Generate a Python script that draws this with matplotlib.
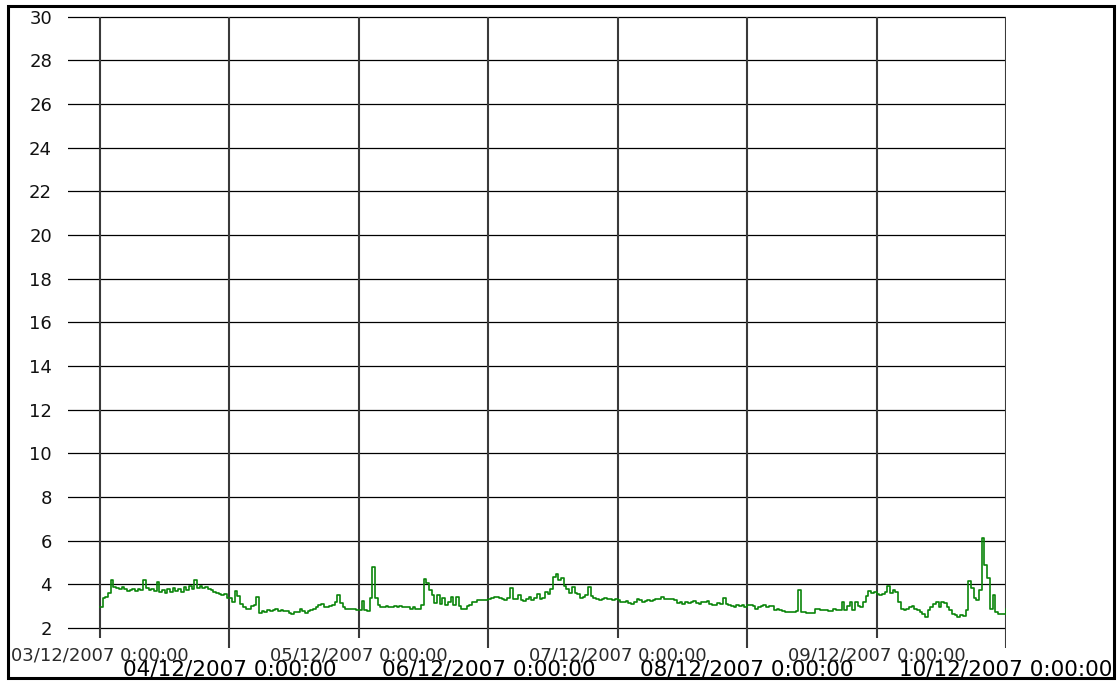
import matplotlib
matplotlib.use("Agg")
import matplotlib.pyplot as plt
import matplotlib.dates as mdates
from matplotlib.patches import Rectangle
import pandas as pd

# half-hourly readings, one list per day (03/12/2007 .. 09/12/2007)
day1 = [2.95, 3.4, 3.42, 3.6, 4.2, 3.9, 3.85, 3.8, 3.9, 3.8, 3.7, 3.75,
        3.8, 3.7, 3.78, 3.75, 4.2, 3.85, 3.75, 3.8, 3.7, 4.1, 3.65, 3.75,
        3.6, 3.8, 3.65, 3.85, 3.7, 3.8, 3.65, 3.9, 3.75, 3.95, 3.8, 4.2,
        3.85, 3.95, 3.85, 3.9, 3.8, 3.75, 3.65, 3.6, 3.55, 3.5, 3.55, 3.4]
day2 = [3.4, 3.2, 3.7, 3.45, 3.1, 2.95, 2.9, 2.9, 3.0, 3.05, 3.42, 2.7,
        2.8, 2.75, 2.85, 2.8, 2.85, 2.9, 2.8, 2.85, 2.8, 2.78, 2.7, 2.67,
        2.72, 2.75, 2.9, 2.8, 2.68, 2.8, 2.85, 2.9, 2.95, 3.05, 3.1, 2.95,
        2.95, 3.0, 3.05, 3.2, 3.5, 3.15, 2.95, 2.9, 2.88, 2.9, 2.88, 2.85]
day3 = [2.85, 3.25, 2.85, 2.8, 3.4, 4.8, 3.4, 3.05, 2.97, 2.95, 3.0, 2.97,
        2.95, 3.02, 2.97, 3.0, 2.95, 2.97, 2.95, 2.9, 2.95, 2.9, 2.88, 3.05,
        4.25, 4.05, 3.75, 3.5, 3.15, 3.5, 3.1, 3.4, 3.05, 3.2, 3.42, 3.05,
        3.42, 3.0, 2.9, 2.9, 3.0, 3.05, 3.2, 3.2, 3.3, 3.3, 3.3, 3.3]
day4 = [3.35, 3.38, 3.42, 3.42, 3.38, 3.35, 3.3, 3.4, 3.85, 3.35, 3.35, 3.5,
        3.3, 3.25, 3.35, 3.42, 3.27, 3.4, 3.58, 3.35, 3.4, 3.65, 3.55, 3.8,
        4.35, 4.48, 4.2, 4.3, 3.95, 3.8, 3.6, 3.88, 3.6, 3.55, 3.4, 3.42,
        3.5, 3.88, 3.45, 3.38, 3.35, 3.3, 3.35, 3.38, 3.35, 3.32, 3.3, 3.35]
day5 = [3.3, 3.22, 3.2, 3.25, 3.15, 3.12, 3.2, 3.35, 3.3, 3.22, 3.25, 3.28,
        3.25, 3.28, 3.32, 3.35, 3.42, 3.32, 3.32, 3.32, 3.32, 3.3, 3.15, 3.2,
        3.12, 3.2, 3.15, 3.22, 3.25, 3.15, 3.12, 3.2, 3.18, 3.25, 3.12, 3.08,
        3.05, 3.15, 3.1, 3.4, 3.12, 3.05, 3.0, 2.97, 3.05, 3.02, 3.05, 2.97]
day6 = [3.05, 3.05, 3.0, 2.9, 2.95, 3.0, 3.05, 2.97, 3.02, 3.0, 2.82, 2.9,
        2.82, 2.8, 2.75, 2.75, 2.75, 2.75, 2.78, 3.73, 2.75, 2.72, 2.68, 2.68,
        2.7, 2.9, 2.9, 2.82, 2.82, 2.85, 2.78, 2.8, 2.9, 2.85, 2.85, 3.2,
        2.85, 3.0, 3.2, 2.85, 3.2, 3.0, 2.95, 3.2, 3.45, 3.7, 3.6, 3.65]
day7 = [3.58, 3.5, 3.55, 3.65, 3.95, 3.6, 3.73, 3.65, 3.2, 2.9, 2.82, 2.88,
        2.97, 3.0, 2.9, 2.85, 2.75, 2.67, 2.52, 2.85, 2.95, 3.1, 3.2, 2.95,
        3.2, 3.15, 2.95, 2.82, 2.67, 2.6, 2.5, 2.62, 2.55, 2.82, 4.18, 3.85,
        3.4, 3.3, 3.73, 6.15, 4.9, 4.3, 2.9, 3.5, 2.75, 2.67, 2.67, 2.67, 2.9]

values = day1 + day2 + day3 + day4 + day5 + day6 + day7
times = pd.date_range("2007-12-03 00:00", "2007-12-10 00:00", freq="30min")

days = pd.date_range("2007-12-03", "2007-12-10", freq="D")
day_labels = [d.strftime("%d/%m/%Y") + " 0:00:00" for d in days]
yticks = list(range(2, 31, 2))

fig = plt.figure(figsize=(11.17, 6.82), dpi=100)
ax = fig.add_axes([68 / 1117, 1 - 650 / 682, (1006 - 68) / 1117, (650 - 16) / 682])

start = mdates.date2num(days[0])
ax.set_xlim(start - 0.247, mdates.date2num(days[-1]))
ax.set_ylim(1.0, 30.03)

for s in ax.spines.values():
    s.set_visible(False)

ax.set_yticks(yticks)
ax.set_yticklabels([str(v) for v in yticks])
ax.tick_params(axis="y", length=0, pad=11.5, labelsize=13, labelcolor="#111111")
ax.grid(axis="y", color="black", lw=0.9)

# vertical day lines, alternating lengths below the bottom gridline
for i, d in enumerate(days):
    ymin = 1.54 if i % 2 == 0 else 1.08
    ax.vlines(d, ymin, 30, color="#3a3a3a", lw=1.5, zorder=2)

ax.set_xticks(days[1::2], labels=day_labels[1::2])
ax.set_xticks(days[0::2], labels=day_labels[0::2], minor=True)
ax.tick_params(axis="x", which="major", length=0, pad=6.8, labelsize=15.5,
               labelcolor="black")
ax.tick_params(axis="x", which="minor", length=0, pad=-2.2, labelsize=13,
               labelcolor="#2a2a2a")

ax.step(times, values, where="post", color="#0a850a", lw=1.2, zorder=3)

fig.patches.append(Rectangle((8 / 1117, 1 - 678 / 682), 1106 / 1117, 672 / 682,
                             transform=fig.transFigure, fill=False,
                             edgecolor="black", lw=2.2))

fig.savefig("out.png", dpi=100)
